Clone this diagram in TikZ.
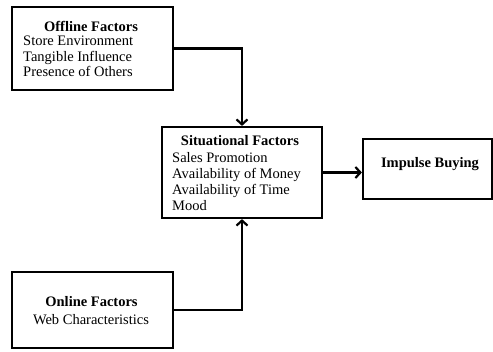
\documentclass[tikz,border=0pt]{standalone}
\usepackage{fontspec}
\setmainfont{Liberation Serif}
\usetikzlibrary{arrows.meta,positioning}
\tikzset{
    factorbox/.style={draw,line width=2.2pt,rectangle,inner sep=0pt},
    heading/.style={font=\fontsize{14.5}{16}\selectfont\bfseries,inner sep=0pt},
    itemlist/.style={font=\fontsize{14.5}{15.5}\selectfont,align=left,
        anchor=north west,inner sep=0pt},
    link/.style={line width=2.2pt,-{Straight Barb[length=5pt,width=11pt]}}
}
\begin{document}
\begin{tikzpicture}[x=1pt,y=1pt]
        \useasboundingbox (0,0) rectangle (493,352);
        %% Boxes
        \node[factorbox,minimum width=161pt,minimum height=83pt]
            (offline) at (92.5,303.5) {};
        \node[factorbox,minimum width=160pt,minimum height=91pt]
            (situational) at (242,179.5) {};
        \node[factorbox,minimum width=129pt,minimum height=60pt]
            (impulse) at (427.5,183) {};
        \node[factorbox,minimum width=161pt,minimum height=76pt]
            (online) at (92.5,42) {};
        %% Texts
        \node[heading] (offlinetitle) at (91,326) {Offline Factors};
        \node[itemlist] (offlineitems) at (23,316)
            {Store Environment\\Tangible Influence\\Presence of Others};
        \node[heading] (situationaltitle) at (240,211) {Situational Factors};
        \node[itemlist,font=\fontsize{14.5}{16}\selectfont] (situationalitems)
            at (172,200)
            {Sales Promotion\\Availability of Money\\Availability of Time\\Mood};
        \node[heading] (impulsetitle) at (430,188) {Impulse Buying};
        \node[heading] (onlinetitle) at (91.5,50) {Online Factors};
        \node[itemlist,anchor=center] (onlineitems) at (91,32)
            {Web Characteristics};
        %% Arrows
        \draw[link] (offline.east) -| (situational.north);
        \draw[link] (online.east) -| (situational.south);
        \draw[link] (situational.east) -- (situational.east -| impulse.west);
    \end{tikzpicture}
\end{document}
